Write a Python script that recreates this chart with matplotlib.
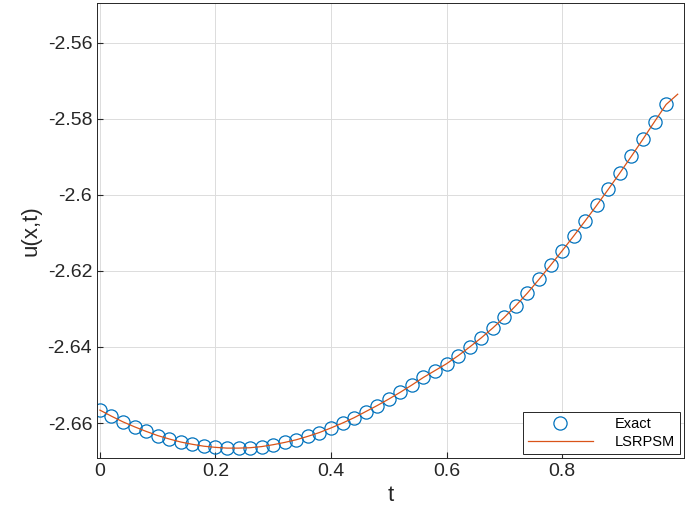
import matplotlib
matplotlib.use("Agg")
import matplotlib.pyplot as plt
import numpy as np

plt.rcParams['font.family'] = ['Liberation Sans', 'DejaVu Sans']

t = [0.00,0.02,0.04,0.06,0.08,0.10,0.12,0.14,0.16,0.18,0.20,0.22,0.24,0.26,0.28,0.30,
     0.32,0.34,0.36,0.38,0.40,0.42,0.44,0.46,0.48,0.50,0.52,0.54,0.56,0.58,0.60,0.62,
     0.64,0.66,0.68,0.70,0.72,0.74,0.76,0.78,0.80,0.82,0.84,0.86,0.88,0.90,0.92,0.94,
     0.96,0.98,1.00]
u = [-2.6566,-2.6582,-2.6597,-2.6610,-2.6622,-2.6633,-2.6642,-2.6650,-2.6656,-2.6661,
     -2.6664,-2.6666,-2.6666,-2.6665,-2.6662,-2.6657,-2.6651,-2.6644,-2.6635,-2.6625,
     -2.6613,-2.6600,-2.6586,-2.6570,-2.6554,-2.6537,-2.6519,-2.6500,-2.6480,-2.6462,
     -2.6444,-2.6423,-2.6400,-2.6376,-2.6350,-2.6322,-2.6291,-2.6258,-2.6222,-2.6185,
     -2.6147,-2.6108,-2.6068,-2.6027,-2.5985,-2.5942,-2.5898,-2.5853,-2.5807,-2.5762,
     -2.5735]

fig = plt.figure(figsize=(6.85, 5.23), dpi=100)
ax = fig.add_axes([0.1416, 0.1243, 0.857, 0.870])
ax.plot(t[:-1], u[:-1], 'o', mfc='none', mec='#0072BD', ms=9.5, mew=0.9, label='Exact')
ax.plot(t, u, '-', color='#D95319', lw=0.9, label='LSRPSM')
ax.set_xlim(-0.005, 1.011)
ax.set_ylim(-2.6692, -2.5495)
ax.set_xticks([0, 0.2, 0.4, 0.6, 0.8])
ax.set_xticklabels(['0', '0.2', '0.4', '0.6', '0.8'])
yt = [-2.66, -2.64, -2.62, -2.60, -2.58, -2.56]
ax.set_yticks(yt)
ax.set_yticklabels(['-2.66', '-2.64', '-2.62', '-2.6', '-2.58', '-2.56'])
ax.grid(True, color='#dcdcdc', lw=0.7)
ax.tick_params(labelsize=14, direction='in', length=4, colors='#262626')
for s in ax.spines.values():
    s.set_color('#262626'); s.set_linewidth(0.7)
ax.set_xlabel('t', fontsize=16, color='#262626')
ax.set_ylabel('u(x,t)', fontsize=16, color='#262626')
leg = ax.legend(loc='lower right', fontsize=10.5, fancybox=False, framealpha=1,
                edgecolor='#262626', borderaxespad=0.3, handlelength=4.5,
                handletextpad=1.5, borderpad=0.3, labelspacing=0.3)
leg.get_frame().set_linewidth(0.7)
fig.savefig('out.png', dpi=100)
